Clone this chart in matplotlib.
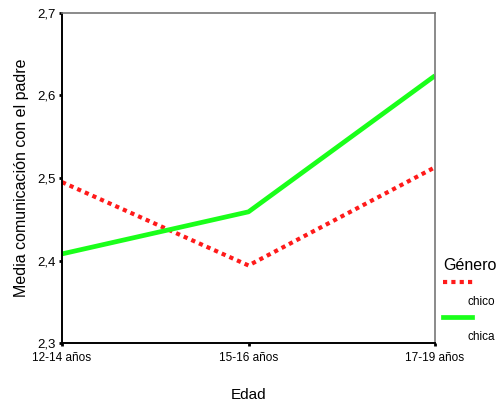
import matplotlib
matplotlib.use("Agg")
import matplotlib.pyplot as plt
from matplotlib.lines import Line2D

plt.rcParams['font.family'] = ['Liberation Sans', 'DejaVu Sans']

categories = ["12-14 años", "15-16 años", "17-19 años"]
chico = [2.495, 2.394, 2.513]
chica = [2.408, 2.459, 2.624]
yticks = [2.3, 2.4, 2.5, 2.6, 2.7]
yticklabels = ["2,3", "2,4", "2,5", "2,6", "2,7"]

red = "#ff1a1a"
green = "#1aff1a"
dot = (0, (1.0, 1.0))

fig = plt.figure(figsize=(5.0, 4.01), dpi=100)
ax = fig.add_axes([0.124, 0.1446, 0.746, 0.823])
x = list(range(len(categories)))
ax.plot(x, chico, color=red, lw=3, linestyle=dot, dash_capstyle='butt')
ax.plot(x, chica, color=green, lw=3.4, solid_capstyle='butt')
ax.set_xlim(0, 2)
ax.set_ylim(2.3, 2.7)
ax.set_xticks(x)
ax.set_xticklabels(categories, fontsize=8.5)
ax.set_yticks(yticks)
ax.set_yticklabels(yticklabels, fontsize=9.5)
ax.tick_params(axis='both', length=2.5, width=2, color='black')
ax.tick_params(axis='x', pad=4)
ax.tick_params(axis='y', pad=2)
for s in ['top', 'right']:
    ax.spines[s].set_color('#777777')
    ax.spines[s].set_linewidth(1.2)
for s in ['left', 'bottom']:
    ax.spines[s].set_color('black')
    ax.spines[s].set_linewidth(1.4)
ax.set_xlabel("Edad", fontsize=11, labelpad=17)
ax.set_ylabel("Media comunicación con el padre", fontsize=11.5, labelpad=6)

# Legend
fig.text(443/500, 1 - 265/401, "Género", fontsize=11.5, ha='left', va='center')
fig.add_artist(Line2D([443/500, 473/500], [1 - 282/401] * 2, color=red, lw=3,
                      linestyle=dot, transform=fig.transFigure))
fig.text(468/500, 1 - 302/401, "chico", fontsize=8.5, ha='left', va='center')
fig.add_artist(Line2D([443/500, 472/500], [1 - 317/401] * 2, color=green, lw=3.4,
                      transform=fig.transFigure))
fig.text(468/500, 1 - 337/401, "chica", fontsize=8.5, ha='left', va='center')

fig.savefig("out.png", dpi=100)
